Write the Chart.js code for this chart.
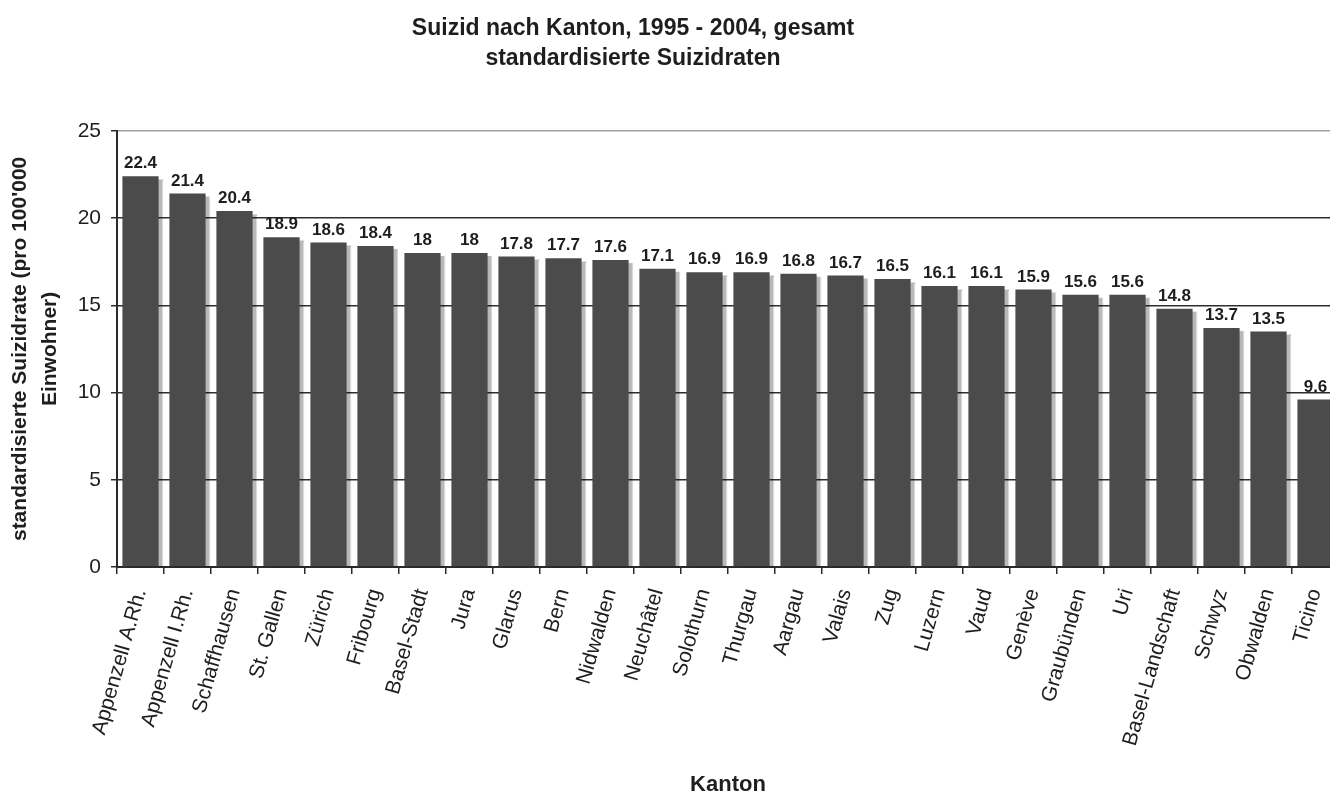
<!DOCTYPE html>
<html>
<head>
<meta charset="utf-8">
<script src="https://cdn.jsdelivr.net/npm/chart.js@4.4.1/dist/chart.umd.min.js"></script>
<style>
  html, body { margin: 0; padding: 0; background: #fff; }
  #wrap { width: 1330px; height: 798px; }
</style>
</head>
<body>
<div id="wrap"><canvas id="chart"></canvas></div>
<script>
// Data
const cantons = [
  "Appenzell A.Rh.", "Appenzell I.Rh.", "Schaffhausen", "St. Gallen", "Zürich",
  "Fribourg", "Basel-Stadt", "Jura", "Glarus", "Bern", "Nidwalden", "Neuchâtel",
  "Solothurn", "Thurgau", "Aargau", "Valais", "Zug", "Luzern", "Vaud", "Genève",
  "Graubünden", "Uri", "Basel-Landschaft", "Schwyz", "Obwalden", "Ticino",
];
const rates = [
  22.4, 21.4, 20.4, 18.9, 18.6, 18.4, 18, 18, 17.8, 17.7, 17.6, 17.1,
  16.9, 16.9, 16.8, 16.7, 16.5, 16.1, 16.1, 15.9, 15.6, 15.6, 14.8, 13.7, 13.5, 9.6,
];
const yMin = 0;
const yMax = 25;
const yStep = 5;

const titleLines = ["Suizid nach Kanton, 1995 - 2004, gesamt", "standardisierte Suizidraten"];
const yTitleLines = ["standardisierte Suizidrate (pro 100'000", "Einwohner)"];
const xTitle = "Kanton";

const FONT = "Arial, 'Liberation Sans', sans-serif";
const BAR_COLOR = "#4b4b4b";
const TEXT_COLOR = "#1e1e1e";

// Soft grey drop shadow to the right of each bar
const barShadow = {
  id: "barShadow",
  beforeDatasetsDraw(chart) {
    const ctx = chart.ctx;
    ctx.save();
    ctx.shadowColor = "rgba(0, 0, 0, 0.28)";
    ctx.shadowOffsetX = 4;
    ctx.shadowOffsetY = 3;
    ctx.shadowBlur = 1;
  },
  afterDatasetsDraw(chart) {
    chart.ctx.restore();
  },
};

// Value labels above the bars
const valueLabels = {
  id: "valueLabels",
  afterDatasetsDraw(chart) {
    const ctx = chart.ctx;
    const meta = chart.getDatasetMeta(0);
    ctx.save();
    ctx.font = `bold 17px ${FONT}`;
    ctx.fillStyle = TEXT_COLOR;
    ctx.textAlign = "center";
    ctx.textBaseline = "bottom";
    meta.data.forEach((bar, i) => {
      ctx.fillText(String(rates[i]), bar.x, bar.y - 4);
    });
    ctx.restore();
  },
};

// The original is cropped: the plot runs a little past the right edge,
// and the title sits left of the canvas centre
const cropLayout = {
  id: "cropLayout",
  afterLayout(chart) {
    const overflow = 9;
    const x = chart.scales.x;
    const right = chart.width + overflow;
    x.right = right;
    x.width = right - x.left;
    x.configure();
    chart.chartArea.right = right;
    chart.chartArea.width = right - chart.chartArea.left;
    if (chart.titleBlock) chart.titleBlock.right = chart.titleBlock.left + 1266;
  },
};

new Chart(document.getElementById("chart"), {
  type: "bar",
  data: {
    labels: cantons,
    datasets: [
      {
        data: rates,
        backgroundColor: BAR_COLOR,
        borderWidth: 0,
        barPercentage: 0.77,
        categoryPercentage: 1,
      },
    ],
  },
  options: {
    responsive: true,
    maintainAspectRatio: false,
    animation: false,
    layout: { padding: 0 },
    plugins: {
      legend: { display: false },
      tooltip: { enabled: false },
      title: {
        display: true,
        text: titleLines,
        color: TEXT_COLOR,
        font: { family: FONT, size: 23, weight: "bold", lineHeight: 1.3 },
        padding: { top: 14, bottom: 57 },
      },
    },
    scales: {
      x: {
        grid: {
          drawOnChartArea: false,
          offset: true,
          tickLength: 7,
          color: "#2a2a2a",
          lineWidth: 1.5,
        },
        border: { color: "#2a2a2a", width: 2 },
        ticks: {
          autoSkip: false,
          minRotation: 74,
          maxRotation: 74,
          color: TEXT_COLOR,
          padding: 12,
          font: { family: FONT, size: 21 },
        },
        title: {
          display: true,
          text: xTitle,
          color: TEXT_COLOR,
          font: { family: FONT, size: 22, weight: "bold" },
          padding: { top: 0, bottom: 0 },
        },
        afterFit(scale) {
          scale.height = 231;
          scale.paddingRight = 0;
        },
      },
      y: {
        min: yMin,
        max: yMax,
        grid: {
          color: (c) => (c.tick && c.tick.value === yMax ? "#a0a0a0" : "#2e2e2e"),
          tickColor: "#2e2e2e",
          tickLength: 6,
          lineWidth: 1.5,
        },
        border: { color: "#2a2a2a", width: 2 },
        ticks: {
          stepSize: yStep,
          color: TEXT_COLOR,
          padding: 10,
          font: { family: FONT, size: 21 },
        },
        title: {
          display: true,
          text: yTitleLines,
          color: TEXT_COLOR,
          font: { family: FONT, size: 21, weight: "bold", lineHeight: 1.4 },
          padding: { top: 6, bottom: 0 },
        },
        afterFit(scale) {
          scale.width = 117;
        },
      },
    },
  },
  plugins: [barShadow, valueLabels, cropLayout],
});
</script>
</body>
</html>
